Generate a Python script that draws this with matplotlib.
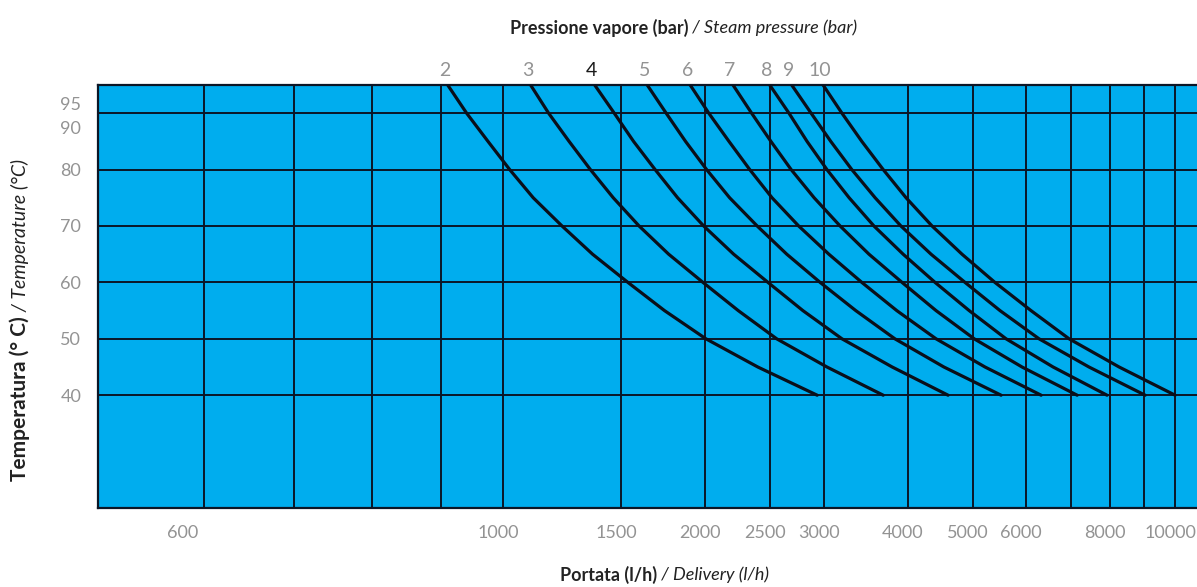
import numpy as np
import matplotlib.pyplot as plt
import matplotlib.transforms as mtrans

plt.rcParams['font.family'] = ['Lato', 'DejaVu Sans']

# ------------- chart data -----------------
temps = [95, 90, 85, 80, 75, 70, 65, 60, 55, 50, 45, 40]   # temperature (°C)
pressures = [2, 3, 4, 5, 6, 7, 8, 9, 10]                    # steam pressure (bar)

# delivery (l/h) at each temperature, one list per pressure curve
flow_2 = [910, 940, 975, 1024, 1110, 1225, 1360, 1535, 1740, 2005, 2395, 2935]
flow_3 = [1100, 1170, 1255, 1350, 1460, 1595, 1765, 1985, 2240, 2555, 3035, 3680]
flow_4 = [1370, 1465, 1565, 1685, 1820, 1990, 2205, 2480, 2795, 3195, 3795, 4595]
flow_5 = [1640, 1750, 1870, 2010, 2175, 2390, 2645, 2965, 3350, 3830, 4530, 5510]
flow_6 = [1900, 2025, 2170, 2330, 2515, 2755, 3055, 3420, 3855, 4410, 5215, 6320]
flow_7 = [2200, 2345, 2505, 2685, 2905, 3175, 3505, 3925, 4410, 5025, 5920, 7150]
flow_8 = [2495, 2665, 2835, 3035, 3275, 3565, 3940, 4395, 4940, 5605, 6585, 7920]
flow_9 = [2690, 2875, 3075, 3305, 3580, 3910, 4335, 4870, 5490, 6275, 7445, 9025]
flow_10 = [2995, 3195, 3420, 3680, 3980, 4350, 4820, 5395, 6105, 6955, 8255, 10000]
flows = [flow_2, flow_3, flow_4, flow_5, flow_6, flow_7, flow_8, flow_9, flow_10]

x_grid = [600, 700, 800, 900, 1000, 1500, 2000, 2500, 3000,
          4000, 5000, 6000, 7000, 8000, 9000, 10000]
x_labels = ['600', '', '', '', '1000', '1500', '2000', '2500', '3000',
            '4000', '5000', '6000', '', '8000', '', '10000']
y_ticks = [40, 50, 60, 70, 80, 90, 95]
# ------------------------------------------

BLUE = '#00adee'
GREY = '#939393'
INK = '#0b1626'


# log axis, stretched twice below 1000 l/h
def fwd(x):
    x = np.asarray(x, dtype=float)
    l = np.log10(np.clip(x, 1e-9, None) / 1000.0)
    return np.where(l < 0, 2 * l, l)


def inv(y):
    y = np.asarray(y, dtype=float)
    return 1000.0 * 10 ** np.where(y < 0, y / 2, y)


W, H = 1197, 587
fig = plt.figure(figsize=(W / 100, H / 100), dpi=100)
ax = fig.add_axes([98 / W, 79 / H, 1102 / W, 423 / H])
ax.set_xscale('function', functions=(fwd, inv))
ax.set_facecolor(BLUE)
ax.set_xlim(500, 10890)
ax.set_ylim(20, 95)

ax.set_xticks(x_grid)
ax.set_xticklabels(x_labels)
ax.xaxis.set_minor_locator(plt.NullLocator())
ax.set_yticks(y_ticks)
ax.set_yticklabels([str(t) for t in y_ticks])
ax.tick_params(length=0, colors=GREY, labelsize=13, pad=12)

ax.grid(True, color=INK, lw=1.4)
ax.set_axisbelow(True)
for s in ax.spines.values():
    s.set_color(INK)
    s.set_linewidth(1.6)


def shift(lab, dx, dy):
    lab.set_transform(lab.get_transform() + mtrans.ScaledTranslation(dx / 100, dy / 100, fig.dpi_scale_trans))


# x labels sit a little left of their lines; 95 / 90 pushed down to keep apart
for i, lab in enumerate(ax.get_xticklabels()):
    shift(lab, -22 if i == 0 else -5, 0)
ylabs = ax.get_yticklabels()
shift(ylabs[-1], 0, -19)
shift(ylabs[-2], 0, -14)

for p, fl in zip(pressures, flows):
    ax.plot(fl, temps, color='#0a0f1a', lw=2.3, solid_capstyle='round',
            solid_joinstyle='round', zorder=3)
    ax.annotate(str(p), xy=(fl[0], 95), xytext=(-3, 6), textcoords='offset pixels',
                ha='center', va='bottom', fontsize=14,
                color='#1a1a1a' if p == 4 else GREY, annotation_clip=False)

# axis titles: bold Italian part, italic English part
fig.text(688 / W, 1 - 28 / H, 'Pressione vapore (bar)', ha='right', va='center',
         fontsize=13, fontweight='bold', color='#222222')
fig.text(688 / W, 1 - 28 / H, ' / Steam pressure (bar)', ha='left', va='center',
         fontsize=13, style='italic', color='#222222')
fig.text(657 / W, 1 - 575 / H, 'Portata (l/h)', ha='right', va='center',
         fontsize=13, fontweight='bold', color='#222222')
fig.text(657 / W, 1 - 575 / H, ' / Delivery (l/h)', ha='left', va='center',
         fontsize=13, style='italic', color='#222222')
fig.text(20 / W, 1 - 316 / H, 'Temperatura (° C)', ha='center', va='top', rotation=90,
         fontsize=15, fontweight='bold', color='#222222')
fig.text(20 / W, 1 - 316 / H, ' / Temperature (°C)', ha='center', va='bottom', rotation=90,
         fontsize=14, style='italic', color='#222222')

fig.savefig('out.png', dpi=100)
